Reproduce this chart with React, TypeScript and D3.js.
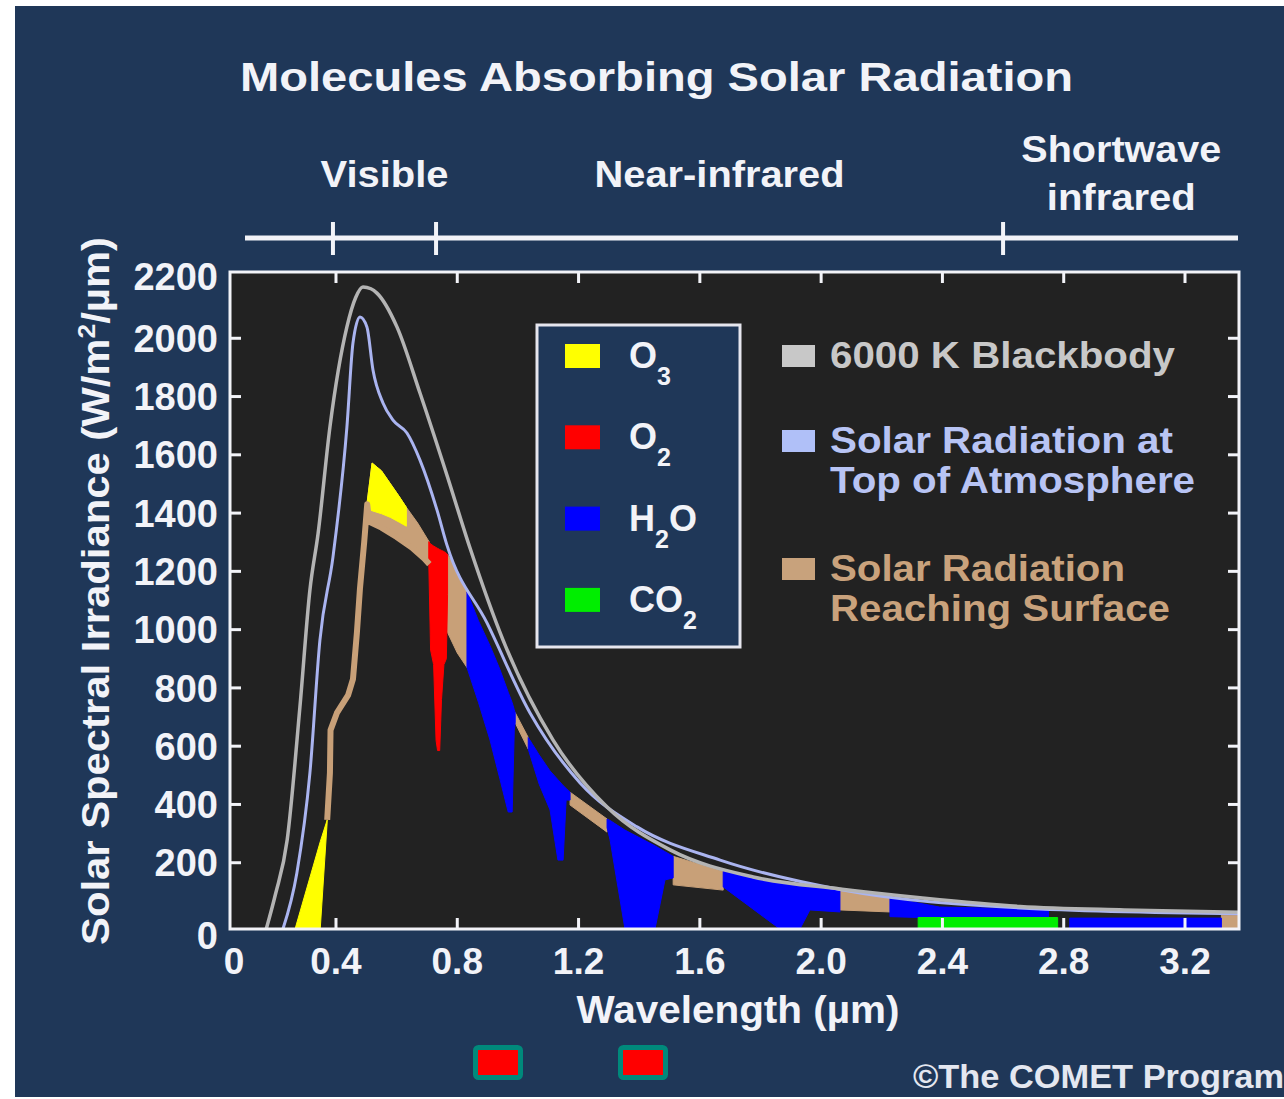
import React from 'react';
import * as d3 from 'd3';

// ---------- data (wavelength in µm, irradiance in W/m²/µm) ----------
const blackbody6000K: [number, number][] = [
  [0.17, 0], [0.2, 90], [0.239, 278], [0.281, 734], [0.314, 1136], [0.341, 1330], [0.38, 1695],
  [0.436, 2039], [0.465, 2140], [0.489, 2176], [0.515, 2170], [0.535, 2155], [0.601, 2039],
  [0.677, 1812], [0.766, 1530], [0.842, 1280], [0.951, 964], [1.116, 621], [1.294, 391],
  [1.502, 244], [1.776, 151], [2.062, 110], [2.326, 80], [2.656, 50], [3.0, 38], [3.38, 30],
];

const solarTopOfAtmosphere: [number, number][] = [
  [0.225, 0], [0.271, 165], [0.314, 508], [0.347, 964], [0.39, 1249], [0.436, 1695],
  [0.456, 1984], [0.479, 2073], [0.502, 2039], [0.522, 1891], [0.555, 1778], [0.588, 1719],
  [0.634, 1675], [0.677, 1582], [0.733, 1411], [0.766, 1290], [0.898, 1023], [1.04, 714],
  [1.205, 474], [1.393, 323], [1.667, 209], [2.062, 108], [2.656, 45], [3.38, 25],
];

const solarSurfaceLine: [number, number][] = [
  [0.371, 347], [0.38, 508], [0.382, 655], [0.403, 714], [0.44, 775], [0.456, 830], [0.469, 990],
  [0.479, 1140], [0.493, 1300], [0.503, 1430], [0.51, 1370], [0.55, 1350], [0.6, 1318],
  [0.65, 1282], [0.69, 1245], [0.708, 1225],
];

// band segments: [wavelength, upper edge, lower edge]
const o3Ultraviolet: [number, number, number][] = [
  [0.265, 0, 0], [0.348, 272, 0], [0.371, 347, 340],
];
const tanVisible: [number, number, number][] = [
  [0.503, 1440, 1365], [0.519, 1572, 1360], [0.55, 1545, 1350], [0.6, 1470, 1318],
  [0.632, 1420, 1295], [0.67, 1365, 1262], [0.708, 1300, 1225],
];
const o3Chappuis: [number, number, number][] = [
  [0.503, 1440, 1415], [0.519, 1572, 1408], [0.55, 1545, 1398], [0.58, 1500, 1385],
  [0.61, 1455, 1368], [0.632, 1420, 1355],
];
const o2ABand: [number, number, number][] = [
  [0.706, 1302, 1230], [0.712, 1294, 930], [0.722, 1287, 880], [0.73, 1282, 620],
  [0.735, 1279, 585], [0.742, 1275, 585], [0.748, 1272, 760], [0.756, 1268, 880],
  [0.764, 1262, 900], [0.768, 1258, 1120],
];
const tanNearIR1: [number, number, number][] = [
  [0.768, 1258, 990], [0.8, 1200, 920], [0.832, 1130, 870],
];
const h2oBand1: [number, number, number][] = [
  [0.832, 1130, 870], [0.87, 1030, 750], [0.908, 945, 621], [0.94, 865, 490],
  [0.968, 785, 374], [0.981, 750, 374], [0.988, 725, 655], [0.991, 715, 680],
];
const tanNearIR2: [number, number, number][] = [
  [0.991, 715, 680], [1.034, 630, 590],
];
const h2oBand2: [number, number, number][] = [
  [1.034, 630, 590], [1.07, 570, 470], [1.106, 515, 381], [1.132, 485, 209],
  [1.149, 465, 209], [1.159, 455, 415], [1.172, 442, 415],
];
const tanNearIR3: [number, number, number][] = [
  [1.172, 442, 398], [1.294, 350, 305],
];
const h2oBand3: [number, number, number][] = [
  [1.294, 350, 320], [1.304, 345, 278], [1.353, 312, 0], [1.452, 258, 0],
  [1.485, 238, 141], [1.512, 222, 148],
];
const tanNearIR4: [number, number, number][] = [
  [1.512, 222, 124], [1.677, 170, 106],
];
const h2oBand4: [number, number, number][] = [
  [1.677, 170, 117], [1.864, 136, 0], [1.93, 126, 0], [1.963, 121, 38], [2.062, 113, 31],
];
const tanNearIR5: [number, number, number][] = [
  [2.062, 113, 38], [2.227, 82, 31],
];
const h2oBand5: [number, number, number][] = [
  [2.227, 80, 15], [2.39, 48, 10], [2.75, 40, 10],
];
const co2Band: [number, number, number][] = [
  [2.32, 12, 0], [2.78, 12, 0],
];
const h2oBand6: [number, number, number][] = [
  [2.82, 10, 0], [3.32, 10, 0],
];
const tanTail: [number, number, number][] = [
  [3.32, 20, 0], [3.4, 20, 0],
];

const segments: { gas: string; rows: [number, number, number][] }[] = [
  { gas: 'surface', rows: tanVisible },
  { gas: 'surface', rows: tanNearIR1 },
  { gas: 'surface', rows: tanNearIR2 },
  { gas: 'surface', rows: tanNearIR3 },
  { gas: 'surface', rows: tanNearIR4 },
  { gas: 'surface', rows: tanNearIR5 },
  { gas: 'surface', rows: tanTail },
  { gas: 'O3', rows: o3Ultraviolet },
  { gas: 'O3', rows: o3Chappuis },
  { gas: 'O2', rows: o2ABand },
  { gas: 'H2O', rows: h2oBand1 },
  { gas: 'H2O', rows: h2oBand2 },
  { gas: 'H2O', rows: h2oBand3 },
  { gas: 'H2O', rows: h2oBand4 },
  { gas: 'H2O', rows: h2oBand5 },
  { gas: 'CO2', rows: co2Band },
  { gas: 'H2O', rows: h2oBand6 },
];

const xTickValues = [0, 0.4, 0.8, 1.2, 1.6, 2.0, 2.4, 2.8, 3.2];
const yTickValues = [0, 200, 400, 600, 800, 1000, 1200, 1400, 1600, 1800, 2000, 2200];

const spectralBands: { label: string[]; from: number; to: number }[] = [
  { label: ['Visible'], from: 0.39, to: 0.73 },
  { label: ['Near-infrared'], from: 0.73, to: 2.6 },
  { label: ['Shortwave', 'infrared'], from: 2.6, to: 3.38 },
];

const gasLegend = [
  { gas: 'O3', main: 'O', sub: '3', after: '' },
  { gas: 'O2', main: 'O', sub: '2', after: '' },
  { gas: 'H2O', main: 'H', sub: '2', after: 'O' },
  { gas: 'CO2', main: 'CO', sub: '2', after: '' },
];

const seriesLegend = [
  { key: 'blackbody', lines: ['6000 K Blackbody'], widths: [345] },
  { key: 'toa', lines: ['Solar Radiation at', 'Top of Atmosphere'], widths: [343, 365] },
  { key: 'surface', lines: ['Solar Radiation', 'Reaching Surface'], widths: [295, 340] },
];

// ---------- styles ----------
const COLORS: Record<string, string> = {
  O3: '#ffff00',
  O2: '#ff0000',
  H2O: '#0000ff',
  CO2: '#00ee00',
  surface: '#c8a078',
  toa: '#aab4f0',
  blackbody: '#b4b4b4',
};
const TEXT_COLORS: Record<string, string> = {
  blackbody: '#c8c8c8',
  toa: '#b8c4f4',
  surface: '#c9a27c',
};
const PANEL = '#1f3758';
const PLOT_BG = '#222222';
const FONT = "'Liberation Sans', Arial, Helvetica, sans-serif";
const WHITE = '#f2f3f8';

const W = 1284;
const H = 1099;
const P = { left: 230, top: 272, right: 1239, bottom: 929 };

export default function App() {
  const x = d3.scaleLinear().domain([0, 3.2]).range([214.7, 1185]);
  const yLin = d3.scaleLinear().domain([0, 2200]).range([921, 280]);
  const y = (v: number) => (v <= 0 ? P.bottom : yLin(v));

  const smoothLine = d3
    .line<[number, number]>()
    .x((d) => x(d[0]))
    .y((d) => y(d[1]))
    .curve(d3.curveMonotoneX);
  const rawLine = d3
    .line<[number, number]>()
    .x((d) => x(d[0]))
    .y((d) => y(d[1]));
  const band = d3
    .area<[number, number, number]>()
    .x((d) => x(d[0]))
    .y0((d) => y(d[2]))
    .y1((d) => y(d[1]));

  const bandLineY = 238;
  const legendBox = { x: 537, y: 325, w: 203, h: 322 };
  const gasRowY = (i: number) => 356 + i * 81.3;

  return (
    <svg
      width={W}
      height={H}
      style={{ position: 'absolute', left: 0, top: 0, background: '#ffffff' }}
    >
      <defs>
        <clipPath id="plotClip">
          <rect x={P.left} y={P.top} width={P.right - P.left} height={P.bottom - P.top} />
        </clipPath>
      </defs>
      <rect x={15} y={6} width={W - 15} height={H - 8} fill={PANEL} />

      {/* title */}
      <text
        x={240}
        y={91}
        fontFamily={FONT}
        fontWeight="bold"
        fontSize={40}
        fill={WHITE}
        textLength={833}
        lengthAdjust="spacingAndGlyphs"
      >
        Molecules Absorbing Solar Radiation
      </text>

      {/* spectral region bar */}
      <line x1={245} x2={1238} y1={bandLineY} y2={bandLineY} stroke={WHITE} strokeWidth={5} />
      {[0.39, 0.73, 2.6].map((v) => (
        <line
          key={v}
          x1={x(v)}
          x2={x(v)}
          y1={bandLineY - 16}
          y2={bandLineY + 17}
          stroke={WHITE}
          strokeWidth={4}
        />
      ))}
      {spectralBands.map((b) => {
        const cx = x((b.from + b.to) / 2);
        if (b.label.length === 1) {
          const w = b.label[0] === 'Visible' ? 128 : 250;
          return (
            <text
              key={b.label[0]}
              x={cx}
              y={187}
              textAnchor="middle"
              fontFamily={FONT}
              fontWeight="bold"
              fontSize={37}
              fill={WHITE}
              textLength={w}
              lengthAdjust="spacingAndGlyphs"
            >
              {b.label[0]}
            </text>
          );
        }
        return (
          <g key={b.label[0]}>
            <text
              x={cx}
              y={162}
              textAnchor="middle"
              fontFamily={FONT}
              fontWeight="bold"
              fontSize={37}
              fill={WHITE}
              textLength={200}
              lengthAdjust="spacingAndGlyphs"
            >
              {b.label[0]}
            </text>
            <text
              x={cx}
              y={210}
              textAnchor="middle"
              fontFamily={FONT}
              fontWeight="bold"
              fontSize={37}
              fill={WHITE}
              textLength={149}
              lengthAdjust="spacingAndGlyphs"
            >
              {b.label[1]}
            </text>
          </g>
        );
      })}

      {/* plot area */}
      <rect
        x={P.left}
        y={P.top}
        width={P.right - P.left}
        height={P.bottom - P.top}
        fill={PLOT_BG}
      />
      <g clipPath="url(#plotClip)">
        {segments.map((s, i) => (
          <path key={i} d={band(s.rows) || ''} fill={COLORS[s.gas]} stroke={COLORS[s.gas]} strokeWidth={1} />
        ))}
        <path
          d={rawLine(solarSurfaceLine) || ''}
          fill="none"
          stroke={COLORS.surface}
          strokeWidth={6}
          strokeLinejoin="round"
        />
        <path
          d={smoothLine(solarTopOfAtmosphere) || ''}
          fill="none"
          stroke={COLORS.toa}
          strokeWidth={3}
        />
        <path
          d={smoothLine(blackbody6000K) || ''}
          fill="none"
          stroke={COLORS.blackbody}
          strokeWidth={3.5}
        />
      </g>

      {/* ticks */}
      {yTickValues
        .filter((v) => v > 0 && v < 2200)
        .map((v) => (
          <g key={v}>
            <line x1={P.left} x2={P.left + 11} y1={yLin(v)} y2={yLin(v)} stroke={WHITE} strokeWidth={3} />
            <line x1={P.right - 11} x2={P.right} y1={yLin(v)} y2={yLin(v)} stroke={WHITE} strokeWidth={3} />
          </g>
        ))}
      {xTickValues
        .filter((v) => v > 0)
        .map((v) => (
          <g key={v}>
            <line x1={x(v)} x2={x(v)} y1={P.top} y2={P.top + 11} stroke={WHITE} strokeWidth={3} />
            <line x1={x(v)} x2={x(v)} y1={P.bottom - 11} y2={P.bottom} stroke={WHITE} strokeWidth={3} />
          </g>
        ))}
      <rect
        x={P.left}
        y={P.top}
        width={P.right - P.left}
        height={P.bottom - P.top}
        fill="none"
        stroke={WHITE}
        strokeWidth={3}
      />

      {/* y tick labels */}
      {yTickValues.map((v) => (
        <text
          key={v}
          x={218}
          y={v === 0 ? yLin(v) + 14 : v === 2200 ? yLin(v) - 4 : yLin(v)}
          dy="0.36em"
          textAnchor="end"
          fontFamily={FONT}
          fontWeight="bold"
          fontSize={38}
          fill={WHITE}
        >
          {v}
        </text>
      ))}
      {/* x tick labels */}
      {xTickValues.map((v) => (
        <text
          key={v}
          x={v === 0 ? P.left + 4 : x(v)}
          y={974}
          textAnchor="middle"
          fontFamily={FONT}
          fontWeight="bold"
          fontSize={37}
          fill={WHITE}
        >
          {v === 0 ? '0' : d3.format('.1f')(v)}
        </text>
      ))}

      {/* axis titles */}
      <text
        x={738}
        y={1023}
        textAnchor="middle"
        fontFamily={FONT}
        fontWeight="bold"
        fontSize={38}
        fill={WHITE}
        textLength={323}
        lengthAdjust="spacingAndGlyphs"
      >
        Wavelength (µm)
      </text>
      <text
        transform="translate(109,591) rotate(-90)"
        textAnchor="middle"
        fontFamily={FONT}
        fontWeight="bold"
        fontSize={38}
        fill={WHITE}
        textLength={708}
        lengthAdjust="spacingAndGlyphs"
      >
        Solar Spectral Irradiance (W/m
        <tspan fontSize={24} dy={-14}>
          2
        </tspan>
        <tspan dy={14}>/µm)</tspan>
      </text>

      {/* gas legend */}
      <rect
        x={legendBox.x}
        y={legendBox.y}
        width={legendBox.w}
        height={legendBox.h}
        fill={PANEL}
        stroke="#e6e6ee"
        strokeWidth={3}
      />
      {gasLegend.map((g, i) => {
        const cy = gasRowY(i);
        return (
          <g key={g.gas}>
            <rect x={565} y={cy - 12} width={35} height={24} fill={COLORS[g.gas]} />
            <text x={629} y={cy + 12} fontFamily={FONT} fontWeight="bold" fontSize={36} fill={WHITE}>
              {g.main}
              <tspan fontSize={25} dy={17}>
                {g.sub}
              </tspan>
              {g.after ? <tspan dy={-17} fontSize={36}>{g.after}</tspan> : null}
            </text>
          </g>
        );
      })}

      {/* series legend */}
      {seriesLegend.map((s, i) => {
        const top = [356, 441, 569][i];
        return (
          <g key={s.key}>
            <rect x={782} y={top - 11} width={33} height={22} fill={i === 0 ? '#c8c8c8' : i === 1 ? '#b0c0f8' : '#c8a27c'} />
            {s.lines.map((t, j) => (
              <text
                key={t}
                x={830}
                y={top + 12 + j * 40}
                fontFamily={FONT}
                fontWeight="bold"
                fontSize={36}
                fill={TEXT_COLORS[s.key]}
                textLength={s.widths[j]}
                lengthAdjust="spacingAndGlyphs"
              >
                {t}
              </text>
            ))}
          </g>
        );
      })}

      {/* markers below the chart */}
      {[0, 1].map((i) => (
        <rect
          key={i}
          x={475.5 + i * 145}
          y={1047.5}
          width={45}
          height={30}
          rx={3}
          fill="#ff0000"
          stroke="#00897b"
          strokeWidth={5}
        />
      ))}

      <text
        x={913}
        y={1088}
        fontFamily={FONT}
        fontWeight="bold"
        fontSize={34}
        fill="#e4e7f0"
        textLength={371}
        lengthAdjust="spacingAndGlyphs"
      >
        ©The COMET Program
      </text>
    </svg>
  );
}
